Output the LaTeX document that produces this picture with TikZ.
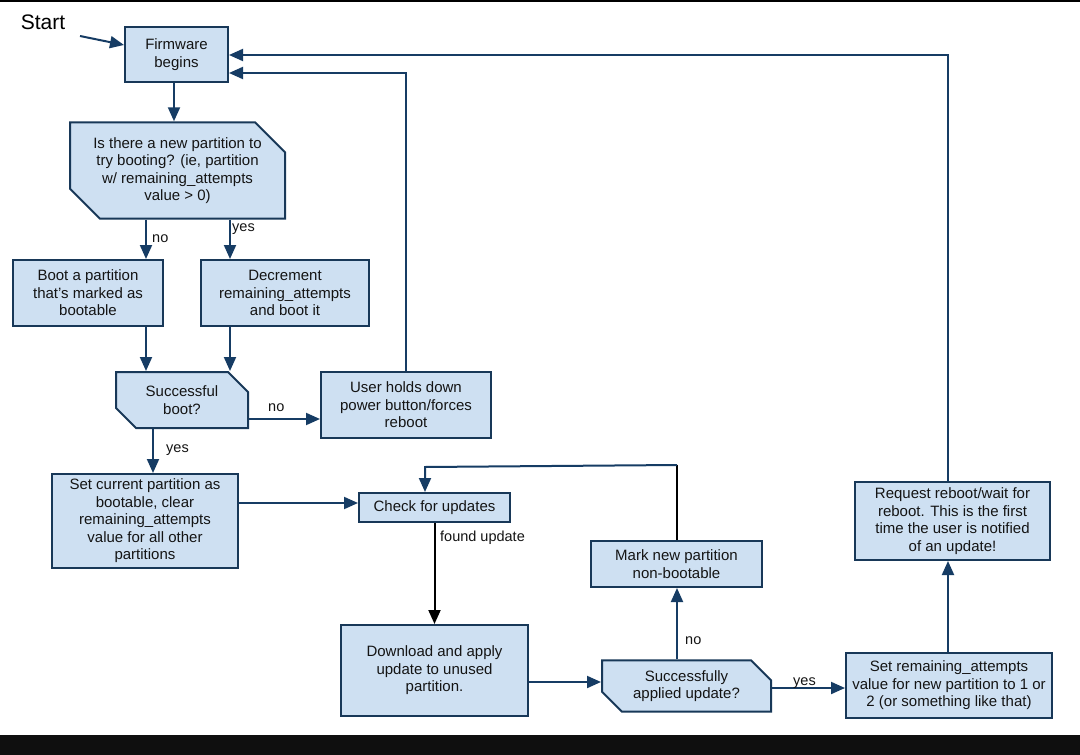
\documentclass[tikz,border=0pt]{standalone}
\usepackage{fontspec}
\setmainfont{Liberation Sans}
\usetikzlibrary{arrows.meta,shapes.misc}
\definecolor{boxfill}{RGB}{206,224,242}
\definecolor{boxline}{RGB}{24,56,88}
\definecolor{arrcol}{RGB}{22,60,100}
\definecolor{txt}{RGB}{20,20,20}
\tikzset{
  box/.style={draw=boxline, fill=boxfill, line width=2pt, inner sep=0pt, align=center,
    text=txt, font=\fontsize{15}{17.5}\selectfont},
  dec/.style={box, chamfered rectangle, chamfered rectangle corners={north east,south west}},
  tip/.style={-{Triangle[length=14pt,width=12pt]}},
  arr/.style={draw=arrcol, line width=2pt, tip},
  lbl/.style={anchor=west, inner sep=0pt, text=txt, font=\fontsize{14.5}{17}\selectfont},
}
\begin{document}
\begin{tikzpicture}[x=1pt,y=-1pt]
\useasboundingbox (0,0) rectangle (1080,755);
\fill[white] (0,0) rectangle (1080,755);
\fill[black] (0,0) rectangle (1080,1.5);
\fill[black!94] (0,735) rectangle (1080,755);

\node[anchor=center, inner sep=0pt, font=\fontsize{21}{23}\selectfont] (start) at (43,22) {Start};
\coordinate (st) at (80,36);

\node[box, minimum width=103pt, minimum height=55pt] (fw) at (176.5,54.5) {Firmware\\begins};
\node[dec, minimum width=215pt, minimum height=85pt, chamfered rectangle xsep=15pt, chamfered rectangle ysep=15pt] (q1) at (177.5,170.5)
  {Is there a new partition to\\try booting? (ie, partition\\w/ remaining\_attempts\\value > 0)};
\node[box, minimum width=150pt, minimum height=66pt] (boot) at (88,293) {Boot a partition\\that's marked as\\bootable};
\node[box, minimum width=168pt, minimum height=66pt] (decr) at (285,293) {Decrement\\remaining\_attempts\\and boot it};
\node[dec, minimum width=132pt, minimum height=56pt, chamfered rectangle xsep=10pt, chamfered rectangle ysep=10pt] (q2) at (182,400) {Successful\\boot?};
\node[box, minimum width=170pt, minimum height=66pt] (user) at (406,405) {User holds down\\power button/forces\\reboot};
\node[box, minimum width=186pt, minimum height=94pt] (setc) at (145,521) {Set current partition as\\bootable, clear\\remaining\_attempts\\value for all other\\partitions};
\node[box, minimum width=151pt, minimum height=29pt] (check) at (434.5,507.5) {Check for updates};
\node[box, minimum width=187pt, minimum height=91pt] (dl) at (434.5,670.5) {Download and apply\\update to unused\\partition.};
\node[dec, minimum width=169pt, minimum height=48pt, chamfered rectangle xsep=10pt, chamfered rectangle ysep=10pt] (q3) at (686.5,686) {Successfully\\applied update?};
\node[box, minimum width=171pt, minimum height=46pt] (mark) at (676.5,564) {Mark new partition\\non-bootable};
\node[box, minimum width=206pt, minimum height=65pt] (setr) at (949,685.5) {Set remaining\_attempts\\value for new partition to 1 or\\2 (or something like that)};
\node[box, minimum width=195pt, minimum height=78pt] (req) at (952.5,521) {Request reboot/wait for\\reboot. This is the first\\time the user is notified\\of an update!};

% helper coordinates
\coordinate (xfw) at (174,0);
\coordinate (xno) at (146,0);
\coordinate (xyes) at (230,0);
\coordinate (xy2) at (153,0);
\coordinate (xr) at (948,0);
\coordinate (xm) at (677,0);
\coordinate (y45) at (0,45);
\coordinate (y55) at (0,55);
\coordinate (y73) at (0,73);
\coordinate (y419) at (0,419);
\coordinate (y503) at (0,503);
\coordinate (y682) at (0,682);
\coordinate (y688) at (0,688);
\coordinate (loopA) at (677,465);
\coordinate (loopB) at (425,467);

\draw[arr] (st) -- (fw.west |- y45);
\draw[arr] (fw.south -| xfw) -- (q1.north -| xfw);
\draw[arr] (q1.south -| xno) -- (boot.north -| xno);
\draw[arr] (q1.south -| xyes) -- (decr.north -| xyes);
\draw[arr] (boot.south -| xno) -- (q2.north -| xno);
\draw[arr] (decr.south -| xyes) -- (q2.north -| xyes);
\draw[arr] (q2.east |- y419) -- (user.west |- y419);
\draw[arr] (user.north) -- (user.north |- y73) -- (fw.east |- y73);
\draw[arr] (req.north -| xr) -- (xr |- y55) -- (fw.east |- y55);
\draw[arr] (q2.south -| xy2) -- (setc.north -| xy2);
\draw[arr] (setc.east |- y503) -- (check.west |- y503);
\draw[line width=2pt, black, tip] (check.south) -- (dl.north);
\draw[arr] (dl.east |- y682) -- (q3.west |- y682);
\draw[arr] (q3.north -| xm) -- (mark.south -| xm);
\draw[line width=2pt, black] (mark.north -| xm) -- (loopA);
\draw[arr] (loopA) -- (loopB) -- (check.north -| loopB);
\draw[arr] (q3.east |- y688) -- (setr.west |- y688);
\draw[arr] (setr.north -| xr) -- (req.south -| xr);

\node[lbl] (l1) at (152,239) {no};
\node[lbl] (l2) at (232,229) {yes};
\node[lbl] (l3) at (268,408) {no};
\node[lbl] (l4) at (166,450) {yes};
\node[lbl] (l5) at (440,538) {found update};
\node[lbl] (l6) at (685,641) {no};
\node[lbl] (l7) at (793,683) {yes};
\end{tikzpicture}
\end{document}
